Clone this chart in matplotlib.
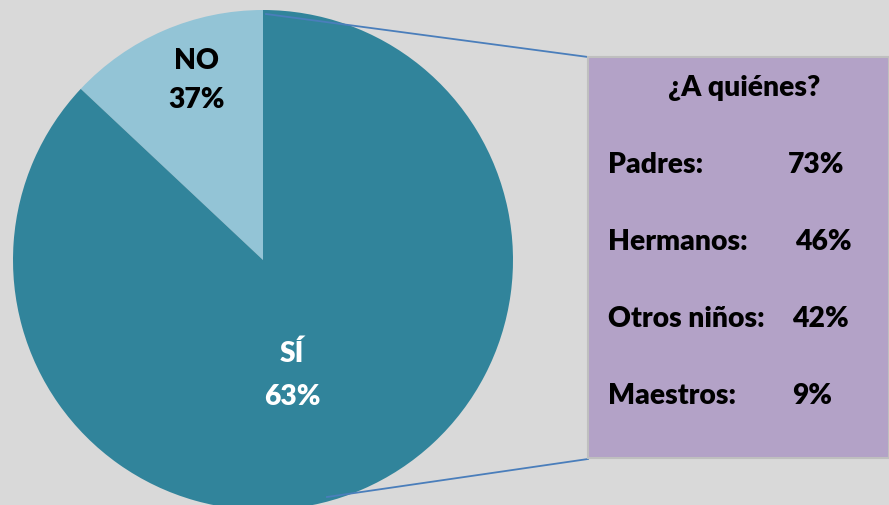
import matplotlib
matplotlib.use("Agg")
import matplotlib.pyplot as plt
from matplotlib.patches import Rectangle

# Data
pie_labels = ["NO", "SÍ"]
pie_label_pct = ["37%", "63%"]
pie_sizes = [13, 87]          # slice sizes as drawn in the picture
pie_colors = ["#93C4D6", "#31849B"]

box_title = "¿A quiénes?"
box_categories = ["Padres:", "Hermanos:", "Otros niños:", "Maestros:"]
box_values = ["73%", "46%", "42%", "9%"]

W, H = 889, 505
fig = plt.figure(figsize=(W / 100, H / 100), dpi=100)
fig.patch.set_facecolor("#D9D9D9")
ax = fig.add_axes([0, 0, 1, 1])

def Y(yp):
    return H - yp

font = "Lato"
fw = "heavy"
fs = 20.3

# Pie
cx, cy, r = 263, Y(260), 250
ax.pie(pie_sizes, colors=pie_colors, startangle=90, counterclock=True,
       center=(cx, cy), radius=r, frame=True, wedgeprops=dict(linewidth=0))
ax.set_xlim(0, W)
ax.set_ylim(0, H)
ax.axis("off")

# Connector lines
ax.plot([266, 588], [Y(14), Y(57)], color="#4A7EBB", lw=1.3, zorder=1)
ax.plot([327, 588], [Y(497), Y(459)], color="#4A7EBB", lw=1.3, zorder=1)

# Pie labels
ax.text(197, Y(69), pie_labels[0], ha="center", va="baseline", fontsize=fs,
        fontweight=fw, family=font, color="#000000")
ax.text(197, Y(108), pie_label_pct[0], ha="center", va="baseline", fontsize=fs,
        fontweight=fw, family=font, color="#000000")
ax.text(292, Y(362), pie_labels[1], ha="center", va="baseline", fontsize=fs,
        fontweight=fw, family=font, color="white")
ax.text(292, Y(405), pie_label_pct[1], ha="center", va="baseline", fontsize=fs,
        fontweight=fw, family=font, color="white")

# Box
box = Rectangle((588, Y(458)), 301, 401, facecolor="#B3A2C7", edgecolor="#BFBFBF",
                lw=1.5, zorder=2)
ax.add_patch(box)
ax.text(744, Y(96), box_title, ha="center", va="baseline", fontsize=fs,
        fontweight=fw, family=font, zorder=3)
rows_y = [173, 250, 327, 404]
val_x = [788, 795, 792, 792]
for cat, val, yy, vx in zip(box_categories, box_values, rows_y, val_x):
    ax.text(608, Y(yy), cat, ha="left", va="baseline", fontsize=fs,
            fontweight=fw, family=font, zorder=3)
    ax.text(vx, Y(yy), val, ha="left", va="baseline", fontsize=fs,
            fontweight=fw, family=font, zorder=3)

fig.savefig("out.png", dpi=100, facecolor=fig.get_facecolor())
